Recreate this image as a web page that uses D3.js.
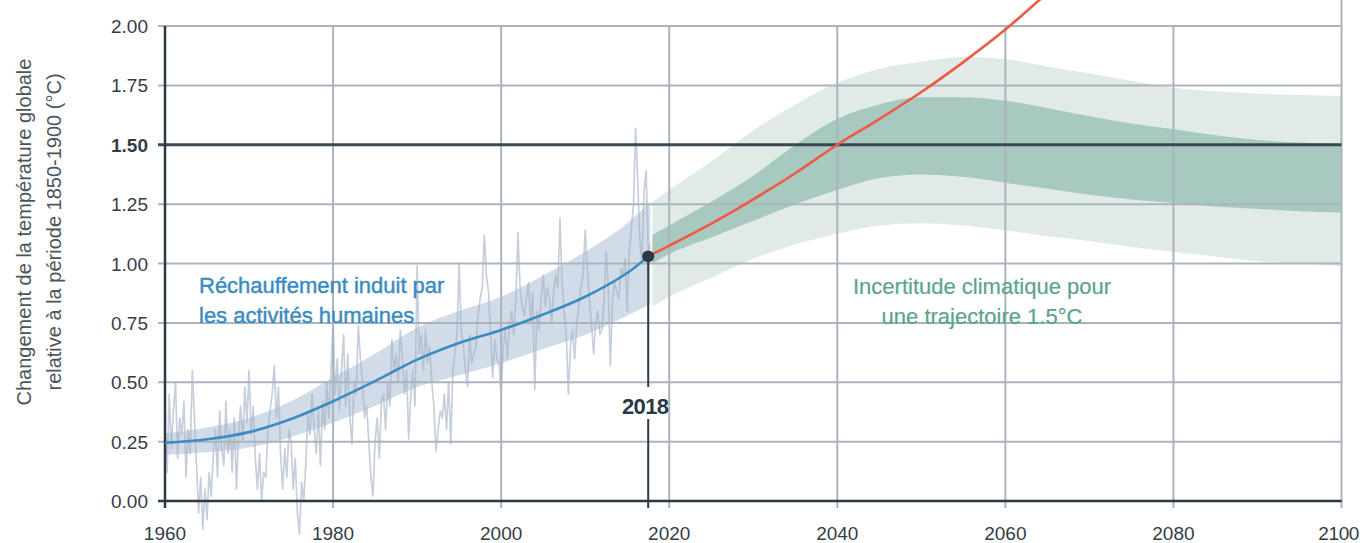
<!DOCTYPE html>
<html>
<head>
<meta charset="utf-8">
<script src="https://cdn.jsdelivr.net/npm/d3@7"></script>
<style>
  html, body { margin: 0; padding: 0; background: #fff; }
  svg { display: block; }
  text { font-family: "Liberation Sans", Arial, sans-serif; }
</style>
</head>
<body>
<div id="chart"></div>
<script>
// Global temperature change relative to 1850-1900

// observed monthly-ish anomalies, 4 per year from 1960.0 to 2017.75
const obsStart = 1960;
const obsStep = 0.25;
const observed = [
  0.30, 0.12, 0.45, 0.22,  0.38, 0.50, 0.18, 0.35,  0.28, 0.42, 0.10, 0.30,  0.20, 0.55, 0.35, 0.15,
  -0.05, 0.10, -0.12, 0.05, -0.08, 0.12, 0.02, 0.20, 0.30, 0.10, 0.38, 0.22,  0.15, 0.42, 0.20, 0.30,
  0.12, 0.35, 0.05, 0.28,  0.40, 0.25, 0.48, 0.33,  0.55, 0.28, 0.40, 0.18,  0.05, 0.20, 0.00, 0.12,
  0.10, 0.30, 0.38, 0.45,  0.57, 0.35, 0.48, 0.20,  0.05, 0.22, 0.10, 0.30,  0.25, 0.05, 0.18, -0.05,
  -0.14, 0.08, 0.00, 0.15, 0.37, 0.28, 0.45, 0.30,  0.20, 0.38, 0.15, 0.42,  0.30, 0.50, 0.35, 0.55,
  0.75, 0.45, 0.60, 0.38,  0.55, 0.70, 0.40, 0.62,  0.35, 0.24, 0.50, 0.45,  0.74, 0.60, 0.50, 0.35,
  0.40, 0.25, 0.10, 0.02,  0.25, 0.35, 0.18, 0.42,  0.45, 0.30, 0.50, 0.40,  0.68, 0.55, 0.62, 0.50,
  0.72, 0.60, 0.45, 0.55,  0.26, 0.45, 0.55, 0.40,  0.99, 0.62, 0.70, 0.55,  0.72, 0.58, 0.65, 0.50,
  0.40, 0.21, 0.30, 0.38,  0.35, 0.45, 0.30, 0.50,  0.24, 0.55, 0.62, 0.70,  1.00, 0.72, 0.65, 0.55,
  0.48, 0.70, 0.58, 0.62,  0.65, 0.78, 0.85, 0.90,  1.12, 0.95, 0.88, 0.70,  0.52, 0.68, 0.60, 0.58,
  0.45, 0.65, 0.72, 0.60,  0.75, 0.80, 0.70, 0.85,  1.13, 0.90, 0.82, 0.78,  0.85, 0.92, 0.75, 0.88,
  0.47, 0.80, 0.72, 0.85,  0.95, 0.82, 0.90, 0.85,  0.75, 0.88, 0.95, 0.90,  1.19, 0.92, 0.80, 0.70,
  0.45, 0.65, 0.72, 0.60,  0.75, 0.82, 0.90, 0.95,  1.14, 0.98, 0.85, 0.75,  0.62, 0.75, 0.80, 0.70,
  0.72, 0.85, 1.05, 0.90,  0.57, 0.85, 0.92, 0.88,  0.85, 0.98, 0.95, 1.02,  0.80, 1.05, 1.15, 1.25,
  1.57, 1.35, 1.10, 1.00,  1.30, 1.39, 1.05, 1.08
];

// human-induced warming (blue line) and its likely range
const humanYears = [1960, 1965, 1970, 1975, 1980, 1985, 1990, 1995, 2000, 2005, 2010, 2015, 2017.5];
const humanWarming = [0.245, 0.26, 0.29, 0.345, 0.42, 0.505, 0.595, 0.665, 0.72, 0.785, 0.86, 0.96, 1.03];
const rangeYears = [1960, 1965, 1970, 1975, 1980, 1985, 1990, 1995, 2000, 2005, 2010, 2015, 2017.75];
const rangeHigh = [0.285, 0.31, 0.35, 0.42, 0.52, 0.62, 0.73, 0.80, 0.86, 0.95, 1.05, 1.17, 1.26];
const rangeLow = [0.195, 0.205, 0.225, 0.27, 0.33, 0.40, 0.48, 0.53, 0.58, 0.64, 0.70, 0.78, 0.83];

// 1.5°C pathway uncertainty
const pathYears = [2018, 2020, 2025, 2030, 2035, 2040, 2045, 2050, 2055, 2060, 2065, 2070, 2075, 2080, 2085, 2090, 2095, 2100];
const outerHigh = [1.26, 1.31, 1.43, 1.56, 1.67, 1.76, 1.82, 1.85, 1.87, 1.86, 1.83, 1.80, 1.77, 1.74, 1.725, 1.715, 1.71, 1.705];
const innerHigh = [1.12, 1.16, 1.26, 1.37, 1.50, 1.61, 1.67, 1.70, 1.70, 1.685, 1.655, 1.62, 1.59, 1.565, 1.54, 1.52, 1.51, 1.505];
const innerLow = [1.00, 1.04, 1.11, 1.18, 1.25, 1.31, 1.36, 1.375, 1.365, 1.34, 1.315, 1.29, 1.27, 1.255, 1.24, 1.23, 1.22, 1.215];
const outerLow = [0.82, 0.86, 0.94, 1.02, 1.08, 1.125, 1.16, 1.17, 1.16, 1.14, 1.115, 1.095, 1.07, 1.05, 1.03, 1.01, 1.00, 0.99];

// current-rate continuation (red line)
const rateYears = [2017.5, 2020, 2025, 2030, 2035, 2040, 2045, 2050, 2055, 2060, 2065];
const rateWarming = [1.03, 1.075, 1.168, 1.27, 1.38, 1.50, 1.608, 1.722, 1.848, 1.985, 2.14];

const now = { year: 2017.5, value: 1.03, label: "2018" };

const yTicks = [0, 0.25, 0.5, 0.75, 1, 1.25, 1.5, 1.75, 2];
const xTicks = [1960, 1980, 2000, 2020, 2040, 2060, 2080, 2100];

const width = 1360, height = 543;

const x = d3.scaleLinear().domain([1960, 2100]).range([165, 1341.5]);
const y = d3.scaleLinear().domain([0, 2]).range([501, 26]);

const svg = d3.select("#chart").append("svg")
    .attr("width", width)
    .attr("height", height);

const area = (xs, lo, hi) => d3.area()
    .x((d, i) => x(xs[i]))
    .y0((d, i) => y(lo[i]))
    .y1((d, i) => y(hi[i]))
    .curve(d3.curveMonotoneX)(xs);

const line = (xs, vs) => d3.line()
    .x((d, i) => x(xs[i]))
    .y((d, i) => y(vs[i]))
    .curve(d3.curveCatmullRom.alpha(0.5))(xs);

// green uncertainty bands
svg.append("path").attr("d", area(pathYears, outerLow, outerHigh)).attr("fill", "#e0eae6");
svg.append("path").attr("d", area(pathYears, innerLow, innerHigh)).attr("fill", "#a8c9bf");

// blue likely range
svg.append("path").attr("d", area(rangeYears, rangeLow, rangeHigh)).attr("fill", "#d2dbe8");

// observed noisy series
svg.append("path")
    .attr("d", d3.line()
        .x((d, i) => x(obsStart + i * obsStep))
        .y(d => y(d))(observed))
    .attr("fill", "none")
    .attr("stroke", "#a7b5c8")
    .attr("stroke-opacity", 0.65)
    .attr("stroke-width", 1.7)
    .attr("stroke-linejoin", "round");

// gridlines
const grid = svg.append("g").attr("stroke", "#aab3be").attr("stroke-width", 2);
grid.selectAll("line.h")
    .data(yTicks.filter(d => d !== 0 && d !== 1.5))
    .enter().append("line")
    .attr("x1", 158).attr("x2", x(2100))
    .attr("y1", d => y(d)).attr("y2", d => y(d));
grid.selectAll("line.v")
    .data(xTicks.filter(d => d !== 1960))
    .enter().append("line")
    .attr("x1", d => x(d)).attr("x2", d => x(d))
    .attr("y1", d => d === 2100 ? 0 : y(2)).attr("y2", 508);

// 1.5 line, axes
svg.append("line")
    .attr("x1", 158).attr("x2", x(2100))
    .attr("y1", y(1.5)).attr("y2", y(1.5))
    .attr("stroke", "#3a4853").attr("stroke-width", 3);
svg.append("line")
    .attr("x1", 158).attr("x2", x(2100))
    .attr("y1", y(0)).attr("y2", y(0))
    .attr("stroke", "#2c3843").attr("stroke-width", 2.5);
svg.append("line")
    .attr("x1", x(1960)).attr("x2", x(1960))
    .attr("y1", y(2)).attr("y2", 508)
    .attr("stroke", "#2c3843").attr("stroke-width", 2.5);

// y tick labels
svg.selectAll("text.yt")
    .data(yTicks)
    .enter().append("text")
    .attr("x", 148)
    .attr("y", d => y(d) + 7)
    .attr("text-anchor", "end")
    .attr("font-size", 19)
    .attr("font-weight", d => d === 1.5 ? "bold" : "normal")
    .attr("fill", "#343d46")
    .text(d => d3.format(".2f")(d));

// x tick labels (last one kept inside the frame)
svg.selectAll("text.xt")
    .data(xTicks)
    .enter().append("text")
    .attr("x", d => d === 2100 ? width - 1 : x(d))
    .attr("y", 540)
    .attr("text-anchor", d => d === 2100 ? "end" : "middle")
    .attr("font-size", 19)
    .attr("letter-spacing", d => d === 2100 ? -0.4 : 0)
    .attr("fill", "#343d46")
    .text(d => d);

// y axis title
const yTitle = svg.append("text")
    .attr("transform", "translate(0,232) rotate(-90)")
    .attr("text-anchor", "middle")
    .attr("font-size", 20)
    .attr("fill", "#4d545b");
yTitle.append("tspan").attr("x", 0).attr("y", 31).text("Changement de la température globale");
yTitle.append("tspan").attr("x", 0).attr("y", 61).text("relative à la période 1850-1900 (°C)");

// blue and red lines
svg.append("path").attr("d", line(humanYears, humanWarming))
    .attr("fill", "none").attr("stroke", "#3a8cc2").attr("stroke-width", 2.6);
svg.append("path").attr("d", line(rateYears, rateWarming))
    .attr("fill", "none").attr("stroke", "#ef5a45").attr("stroke-width", 2.6);

// 2018 marker
svg.append("line")
    .attr("x1", x(now.year)).attr("x2", x(now.year))
    .attr("y1", y(now.value)).attr("y2", 387)
    .attr("stroke", "#2c3843").attr("stroke-width", 2);
svg.append("line")
    .attr("x1", x(now.year)).attr("x2", x(now.year))
    .attr("y1", 419).attr("y2", 508)
    .attr("stroke", "#2c3843").attr("stroke-width", 2);
svg.append("circle")
    .attr("cx", x(now.year)).attr("cy", y(now.value)).attr("r", 6)
    .attr("fill", "#2c3843");
svg.append("text")
    .attr("x", x(now.year) - 3).attr("y", 414)
    .attr("text-anchor", "middle")
    .attr("font-size", 22).attr("font-weight", "bold")
    .attr("letter-spacing", -0.6)
    .attr("fill", "#2c3843")
    .text(now.label);

// annotations
const human = svg.append("text").attr("font-size", 22).attr("fill", "#3a8cc2")
    .attr("stroke", "#3a8cc2").attr("stroke-width", 0.45)
    .attr("font-family", "Roboto, 'Liberation Sans', sans-serif").attr("font-weight", 500);
human.append("tspan").attr("x", 199).attr("y", 293).text("Réchauffement induit par");
human.append("tspan").attr("x", 199).attr("y", 323).text("les activités humaines");

const pathway = svg.append("text").attr("font-size", 22).attr("fill", "#5aa48b")
    .attr("stroke", "#5aa48b").attr("stroke-width", 0.2)
    .attr("text-anchor", "middle");
pathway.append("tspan").attr("x", 982).attr("y", 294).text("Incertitude climatique pour");
pathway.append("tspan").attr("x", 982).attr("y", 324).text("une trajectoire 1.5°C");
</script>
</body>
</html>
